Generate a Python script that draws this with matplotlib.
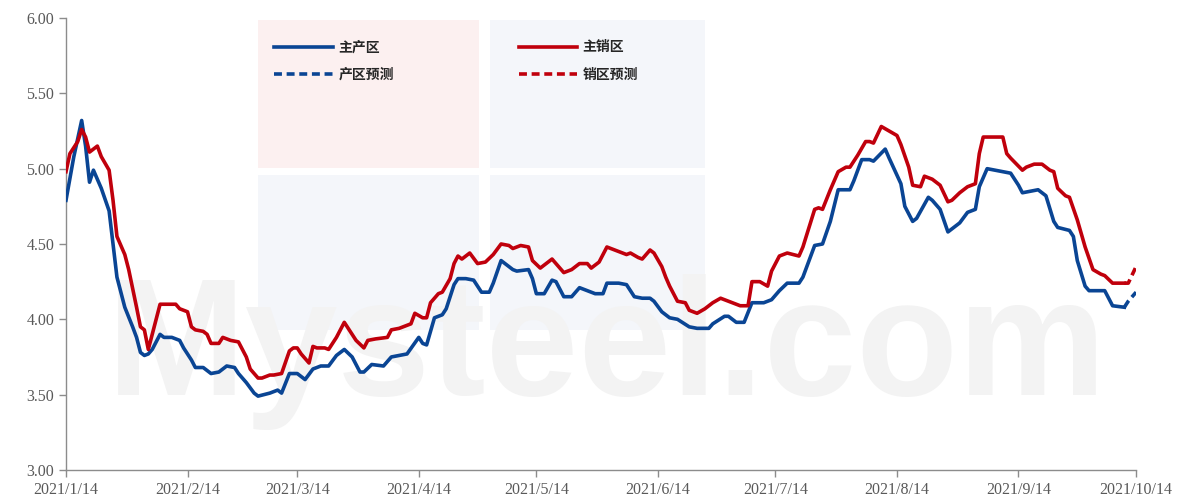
import numpy as np
import matplotlib
matplotlib.use("Agg")
import matplotlib.pyplot as plt
from matplotlib.patches import Rectangle

# ---------------- data (day offsets from 2021-01-14) ----------------
start_date = "2021-01-14"

prod_days = [0, 2, 4, 5, 6, 7, 9, 11, 12, 13, 14, 15, 17, 18, 19, 20, 21, 22, 23, 24, 25, 27, 29, 30,
             32, 33, 35, 37, 39, 41, 43, 44, 46, 48, 49, 52, 54, 55, 57, 59, 61, 63, 65, 67, 69, 71,
             73, 75, 76, 78, 81, 83, 85, 87, 90, 91, 92, 94, 96, 97, 99, 100, 102, 104, 106, 108,
             109, 111, 113, 114, 115, 118, 119, 120, 122, 124, 125, 127, 129, 131, 133, 135, 137,
             138, 141, 143, 145, 147, 149, 150, 152, 154, 156, 159, 161, 164, 165, 168, 169, 171,
             173, 175, 178, 180, 182, 184, 187, 188, 191, 193, 195, 197, 200, 201, 203, 205, 206,
             209, 210, 213, 214, 216, 217, 220, 221, 223, 225, 228, 230, 232, 233, 235, 237, 239,
             241, 243, 244, 246, 248, 250, 252, 253, 256, 257, 258, 260, 261, 265, 266, 267, 270]
prod_vals = [4.79, 5.08, 5.32, 5.15, 4.91, 4.99, 4.87, 4.72, 4.50, 4.28, 4.18, 4.08, 3.95, 3.88, 3.78,
             3.76, 3.77, 3.80, 3.85, 3.90, 3.88, 3.88, 3.86, 3.81, 3.73, 3.68, 3.68, 3.64, 3.65, 3.69,
             3.68, 3.64, 3.58, 3.51, 3.49, 3.51, 3.53, 3.51, 3.64, 3.64, 3.60, 3.67, 3.69, 3.69, 3.76,
             3.80, 3.75, 3.65, 3.65, 3.70, 3.69, 3.75, 3.76, 3.77, 3.88, 3.84, 3.83, 4.01, 4.03, 4.07,
             4.23, 4.27, 4.27, 4.26, 4.18, 4.18, 4.24, 4.39, 4.35, 4.33, 4.32, 4.33, 4.27, 4.17, 4.17,
             4.26, 4.25, 4.15, 4.15, 4.21, 4.19, 4.17, 4.17, 4.24, 4.24, 4.23, 4.15, 4.14, 4.14, 4.12,
             4.05, 4.01, 4.00, 3.95, 3.94, 3.94, 3.97, 4.02, 4.02, 3.98, 3.98, 4.11, 4.11, 4.13, 4.19,
             4.24, 4.24, 4.28, 4.49, 4.50, 4.65, 4.86, 4.86, 4.92, 5.06, 5.06, 5.05, 5.13, 5.07, 4.90,
             4.75, 4.65, 4.67, 4.81, 4.79, 4.73, 4.58, 4.64, 4.71, 4.73, 4.88, 5.00, 4.99, 4.98, 4.97,
             4.89, 4.84, 4.85, 4.86, 4.82, 4.65, 4.61, 4.59, 4.55, 4.39, 4.22, 4.19, 4.19, 4.14, 4.09,
             4.08]

sales_days = [0, 1, 3, 4, 5, 6, 8, 9, 11, 12, 13, 15, 16, 18, 19, 20, 21, 23, 24, 28, 29, 31, 32, 33,
              35, 36, 37, 39, 40, 42, 44, 46, 47, 49, 50, 52, 53, 55, 57, 58, 59, 60, 62, 63, 64, 66,
              67, 69, 71, 72, 74, 76, 77, 79, 82, 83, 85, 86, 88, 89, 91, 92, 93, 95, 96, 98, 99,
              100, 101, 103, 105, 107, 109, 111, 113, 114, 116, 118, 119, 121, 122, 124, 125, 127,
              129, 131, 133, 134, 136, 138, 141, 143, 144, 146, 147, 149, 150, 152, 153, 154, 156,
              158, 159, 161, 163, 165, 167, 170, 172, 174, 175, 177, 179, 180, 182, 184, 187, 188,
              191, 192, 193, 195, 197, 199, 200, 202, 204, 205, 206, 208, 210, 212, 213, 215, 216,
              218, 219, 221, 223, 225, 226, 228, 230, 232, 233, 234, 239, 240, 241, 244, 245, 247,
              249, 251, 252, 253, 255, 256, 258, 260, 262, 264, 265, 267, 270]
sales_vals = [4.98, 5.10, 5.18, 5.26, 5.21, 5.11, 5.15, 5.08, 4.99, 4.79, 4.55, 4.43, 4.33, 4.08, 3.95,
              3.93, 3.80, 4.00, 4.10, 4.10, 4.07, 4.05, 3.95, 3.93, 3.92, 3.90, 3.84, 3.84, 3.88, 3.86,
              3.85, 3.75, 3.67, 3.61, 3.61, 3.63, 3.63, 3.64, 3.79, 3.81, 3.81, 3.77, 3.71, 3.82, 3.81,
              3.81, 3.80, 3.88, 3.98, 3.94, 3.86, 3.81, 3.86, 3.87, 3.88, 3.93, 3.94, 3.95, 3.97, 4.04,
              4.01, 4.01, 4.11, 4.17, 4.18, 4.27, 4.37, 4.42, 4.40, 4.44, 4.37, 4.38, 4.43, 4.50, 4.49,
              4.47, 4.49, 4.48, 4.39, 4.34, 4.36, 4.40, 4.37, 4.31, 4.33, 4.37, 4.37, 4.34, 4.38, 4.48,
              4.45, 4.43, 4.44, 4.41, 4.40, 4.46, 4.44, 4.35, 4.28, 4.22, 4.12, 4.11, 4.06, 4.04, 4.07,
              4.11, 4.14, 4.11, 4.09, 4.09, 4.25, 4.25, 4.22, 4.32, 4.42, 4.44, 4.42, 4.48, 4.73, 4.74,
              4.73, 4.86, 4.98, 5.01, 5.01, 5.09, 5.18, 5.18, 5.17, 5.28, 5.25, 5.22, 5.16, 5.01, 4.89,
              4.88, 4.95, 4.93, 4.89, 4.78, 4.79, 4.84, 4.88, 4.90, 5.10, 5.21, 5.21, 5.10, 5.07, 4.99,
              5.01, 5.03, 5.03, 4.99, 4.98, 4.87, 4.82, 4.81, 4.66, 4.48, 4.33, 4.30, 4.29, 4.24, 4.24]

prod_fc_days = [270, 271, 273]
prod_fc_vals = [4.08, 4.12, 4.18]
sales_fc_days = [270, 271, 273]
sales_fc_vals = [4.24, 4.24, 4.35]

series_labels = ["主产区", "主销区", "产区预测", "销区预测"]
y_ticks = [3.00, 3.50, 4.00, 4.50, 5.00, 5.50, 6.00]
x_tick_labels = ["2021/1/14", "2021/2/14", "2021/3/14", "2021/4/14", "2021/5/14",
                 "2021/6/14", "2021/7/14", "2021/8/14", "2021/9/14", "2021/10/14"]
x_tick_dates = ["2021-01-14", "2021-02-14", "2021-03-14", "2021-04-14", "2021-05-14",
                "2021-06-14", "2021-07-14", "2021-08-14", "2021-09-14", "2021-10-14"]

BLUE = "#0A4594"
RED = "#C0000C"

# ---------------- figure ----------------
def to_dates(days):
    return np.datetime64(start_date) + np.array(days, dtype="timedelta64[D]")

fig = plt.figure(figsize=(11.89, 5.01), dpi=100)
ax = fig.add_axes([0.0555, 0.062, 0.9, 0.902])

# faint watermark
wm = [((0.179, 0.668), 0.207, 0.328, "#FCF0F0"), ((0.396, 0.668), 0.201, 0.328, "#F4F6FA"),
      ((0.179, 0.310), 0.207, 0.343, "#F4F6FA"), ((0.396, 0.310), 0.201, 0.343, "#F4F6FA")]
for (xy, w, h, c) in wm:
    ax.add_patch(Rectangle(xy, w, h, transform=ax.transAxes, facecolor=c, edgecolor="none", zorder=0))
ax.text(0.038, 0.166, "Mysteel.com", transform=ax.transAxes, fontsize=120, color="#F3F3F3",
        fontweight="bold", family="Liberation Sans", zorder=0.5, va="baseline", ha="left",
        clip_on=True)

lw = 2.6
ax.plot(to_dates(prod_days), prod_vals, color=BLUE, lw=lw, label=series_labels[0], zorder=3)
ax.plot(to_dates(sales_days), sales_vals, color=RED, lw=lw, label=series_labels[1], zorder=3)
ax.plot(to_dates(prod_fc_days), prod_fc_vals, color=BLUE, lw=lw, ls=(0, (2.2, 1.3)),
        label=series_labels[2], zorder=3)
ax.plot(to_dates(sales_fc_days), sales_fc_vals, color=RED, lw=lw, ls=(0, (2.2, 1.3)),
        label=series_labels[3], zorder=3)

ax.set_ylim(3.0, 6.0)
ax.set_yticks(y_ticks)
ax.set_yticklabels([f"{v:.2f}" for v in y_ticks])
xt = np.array(x_tick_dates, dtype="datetime64[D]")
ax.set_xlim(xt[0], xt[-1])
ax.set_xticks(xt)
ax.set_xticklabels(x_tick_labels)

for s in ["top", "right"]:
    ax.spines[s].set_visible(False)
for s in ["left", "bottom"]:
    ax.spines[s].set_color("#8C8C8C")
    ax.spines[s].set_linewidth(1.0)
ax.tick_params(axis="both", colors="#8C8C8C", length=5, width=1.0, direction="out",
               labelcolor="#595959", labelsize=11.5)
for lab in ax.get_xticklabels() + ax.get_yticklabels():
    lab.set_family(["Liberation Serif", "DejaVu Serif"])

handles, labels = ax.get_legend_handles_labels()
order = [0, 2, 1, 3]
leg = ax.legend([handles[i] for i in order], [labels[i] for i in order], ncol=2,
                loc="upper left", bbox_to_anchor=(0.183, 0.978), frameon=False,
                prop={"family": ["Noto Sans CJK SC", "DejaVu Sans"], "size": 10, "weight": "bold"},
                handlelength=4.2, handletextpad=0.4, columnspacing=9.0, labelspacing=0.95)
for t in leg.get_texts():
    t.set_color("#262626")

fig.savefig("out.png", dpi=100)
